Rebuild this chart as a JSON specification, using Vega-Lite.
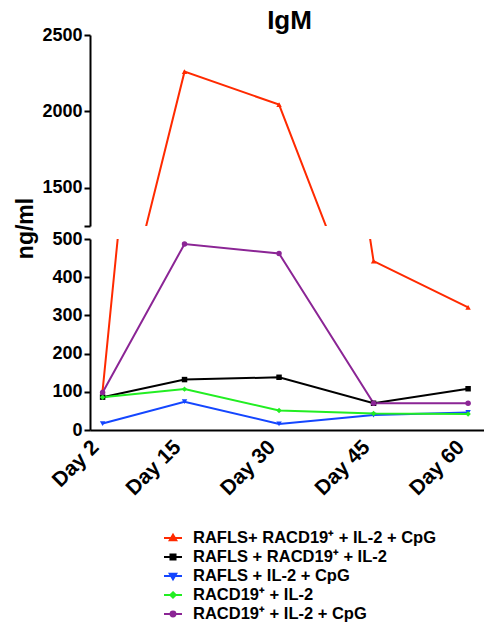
{
  "$schema": "https://vega.github.io/schema/vega-lite/v6.json",
  "padding": {"left": 14, "top": 8, "right": 0, "bottom": 0},
  "bounds": "flush",
  "title": {"text": "IgM", "fontSize": 26, "font": "Liberation Sans", "fontWeight": "bold", "anchor": "middle", "frame": "group", "dx": 1, "offset": -8, "color": "black"},
  "data": {
    "values": [
      {"day": 2, "grp": "RAFLS+ RACD19⁺ + IL-2 + CpG", "v": 103},
      {"day": 15, "grp": "RAFLS+ RACD19⁺ + IL-2 + CpG", "v": 2260},
      {"day": 30, "grp": "RAFLS+ RACD19⁺ + IL-2 + CpG", "v": 2045},
      {"day": 45, "grp": "RAFLS+ RACD19⁺ + IL-2 + CpG", "v": 442},
      {"day": 60, "grp": "RAFLS+ RACD19⁺ + IL-2 + CpG", "v": 321},
      {"day": 2, "grp": "RAFLS + RACD19⁺ + IL-2", "v": 86},
      {"day": 15, "grp": "RAFLS + RACD19⁺ + IL-2", "v": 132},
      {"day": 30, "grp": "RAFLS + RACD19⁺ + IL-2", "v": 138},
      {"day": 45, "grp": "RAFLS + RACD19⁺ + IL-2", "v": 70},
      {"day": 60, "grp": "RAFLS + RACD19⁺ + IL-2", "v": 108},
      {"day": 2, "grp": "RAFLS + IL-2 + CpG", "v": 17},
      {"day": 15, "grp": "RAFLS + IL-2 + CpG", "v": 74},
      {"day": 30, "grp": "RAFLS + IL-2 + CpG", "v": 16},
      {"day": 45, "grp": "RAFLS + IL-2 + CpG", "v": 39},
      {"day": 60, "grp": "RAFLS + IL-2 + CpG", "v": 46},
      {"day": 2, "grp": "RACD19⁺ + IL-2", "v": 86},
      {"day": 15, "grp": "RACD19⁺ + IL-2", "v": 107},
      {"day": 30, "grp": "RACD19⁺ + IL-2", "v": 51},
      {"day": 45, "grp": "RACD19⁺ + IL-2", "v": 43},
      {"day": 60, "grp": "RACD19⁺ + IL-2", "v": 42},
      {"day": 2, "grp": "RACD19⁺ + IL-2 + CpG", "v": 98},
      {"day": 15, "grp": "RACD19⁺ + IL-2 + CpG", "v": 487},
      {"day": 30, "grp": "RACD19⁺ + IL-2 + CpG", "v": 462},
      {"day": 45, "grp": "RACD19⁺ + IL-2 + CpG", "v": 70},
      {"day": 60, "grp": "RACD19⁺ + IL-2 + CpG", "v": 70}
    ]
  },
  "config": {
    "view": {"stroke": null},
    "font": "Liberation Sans",
    "axis": {
      "grid": false,
      "domainColor": "black",
      "domainWidth": 2,
      "tickColor": "black",
      "tickWidth": 2,
      "labelFont": "Liberation Sans",
      "labelFontWeight": "bold",
      "labelColor": "black",
      "titleFont": "Liberation Sans",
      "titleFontWeight": "bold",
      "titleColor": "black"
    },
    "legend": {
      "orient": "none",
      "legendX": 73,
      "legendY": 493,
      "title": null,
      "labelFont": "Liberation Sans",
      "labelFontWeight": "bold",
      "labelFontSize": 16.5,
      "labelColor": "black",
      "rowPadding": -1,
      "labelOffset": 10,
      "symbolSize": 324,
      "labelLimit": 400
    }
  },
  "spacing": 13,
  "resolve": {"scale": {"y": "independent"}},
  "vconcat": [
    {
      "width": 397,
      "height": 191,
      "encoding": {
        "x": {"field": "day", "type": "quantitative", "scale": {"domain": [0, 63], "nice": false}, "axis": null},
        "y": {
          "field": "v", "type": "quantitative",
          "scale": {"domain": [1250, 2500], "nice": false, "zero": false},
          "axis": {"values": [1250, 1500, 2000, 2500], "labelExpr": "datum.value == 1250 ? '' : datum.value", "labelFontSize": 18, "tickSize": 6, "labelPadding": 2, "title": "ng/ml", "titleFontSize": 23, "titleY": 193, "titlePadding": 4}
        },
        "color": {
          "field": "grp", "type": "nominal",
          "sort": ["RAFLS+ RACD19⁺ + IL-2 + CpG", "RAFLS + RACD19⁺ + IL-2", "RAFLS + IL-2 + CpG", "RACD19⁺ + IL-2", "RACD19⁺ + IL-2 + CpG"],
          "scale": {"range": ["#ff2a00", "#000000", "#1446ff", "#22ee22", "#8b2595"]},
          "legend": {
            "encode": {
              "symbols": {
                "update": {
                  "shape": {"signal": "['M-1,0H1M-0.36,0.24L0,-0.36L0.36,0.24Z','M-1,0H1M-0.28,-0.28H0.28V0.28H-0.28Z','M-1,0H1M-0.36,-0.24L0,0.36L0.36,-0.24Z','M-1,0H1M0,-0.3L0.3,0L0,0.3L-0.3,0Z','M-1,0H1M-0.27,0A0.27,0.27,0,1,0,0.27,0A0.27,0.27,0,1,0,-0.27,0Z'][indexof(domain('color'), datum.value)]"},
                  "fill": {"scale": "color", "field": "value"},
                  "stroke": {"scale": "color", "field": "value"},
                  "strokeWidth": {"value": 2},
                  "opacity": {"value": 1},
                  "fillOpacity": {"value": 1}
                }
              }
            }
          }
        }
      },
      "layer": [
        {"mark": {"type": "line", "clip": true, "strokeWidth": 2}},
        {
          "mark": {"type": "point", "clip": true, "filled": true, "opacity": 1, "size": 30},
          "encoding": {
            "shape": {
              "field": "grp", "type": "nominal", "legend": null,
              "sort": ["RAFLS+ RACD19⁺ + IL-2 + CpG", "RAFLS + RACD19⁺ + IL-2", "RAFLS + IL-2 + CpG", "RACD19⁺ + IL-2", "RACD19⁺ + IL-2 + CpG"],
              "scale": {"range": ["triangle-up", "square", "triangle-down", "diamond", "circle"]}
            }
          }
        }
      ]
    },
    {
      "width": 397,
      "height": 191,
      "encoding": {
        "x": {
          "field": "day", "type": "quantitative", "scale": {"domain": [0, 63], "nice": false},
          "axis": {"values": [2, 15, 30, 45, 60], "labelExpr": "'Day ' + datum.value", "labelAngle": -45, "labelAlign": "right", "labelBaseline": "top", "labelOffset": -15, "labelFontSize": 21, "ticks": false, "labelPadding": 6, "title": null}
        },
        "y": {
          "field": "v", "type": "quantitative",
          "scale": {"domain": [0, 500], "nice": false},
          "axis": {"values": [0, 100, 200, 300, 400, 500], "labelFontSize": 18, "tickSize": 6, "labelPadding": 2, "title": null}
        },
        "color": {
          "field": "grp", "type": "nominal",
          "sort": ["RAFLS+ RACD19⁺ + IL-2 + CpG", "RAFLS + RACD19⁺ + IL-2", "RAFLS + IL-2 + CpG", "RACD19⁺ + IL-2", "RACD19⁺ + IL-2 + CpG"],
          "scale": {"range": ["#ff2a00", "#000000", "#1446ff", "#22ee22", "#8b2595"]}
        }
      },
      "layer": [
        {"mark": {"type": "line", "clip": true, "strokeWidth": 2}},
        {
          "mark": {"type": "point", "clip": true, "filled": true, "opacity": 1, "size": 30},
          "encoding": {
            "shape": {
              "field": "grp", "type": "nominal", "legend": null,
              "sort": ["RAFLS+ RACD19⁺ + IL-2 + CpG", "RAFLS + RACD19⁺ + IL-2", "RAFLS + IL-2 + CpG", "RACD19⁺ + IL-2", "RACD19⁺ + IL-2 + CpG"],
              "scale": {"range": ["triangle-up", "square", "triangle-down", "diamond", "circle"]}
            }
          }
        }
      ]
    }
  ]
}
